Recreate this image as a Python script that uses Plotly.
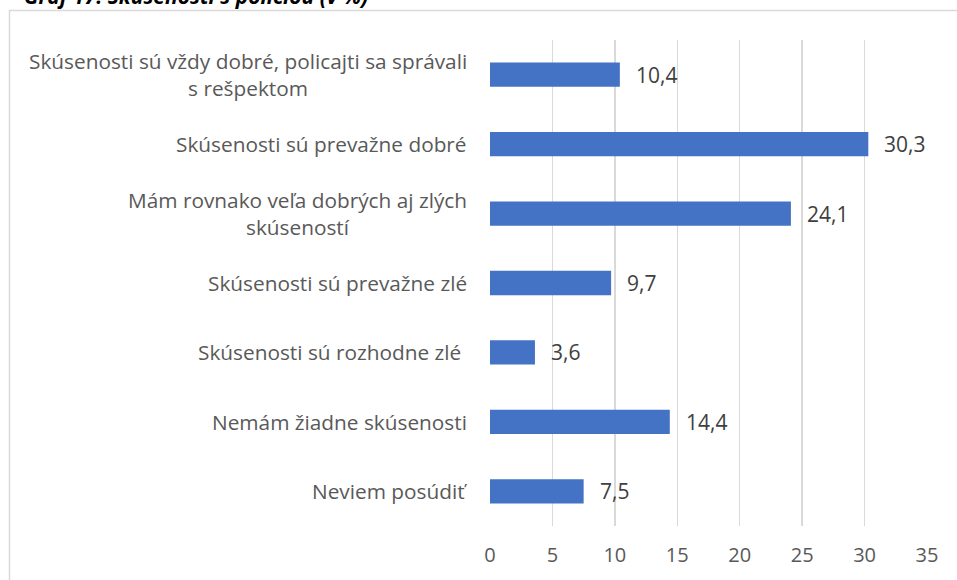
import plotly.graph_objects as go

categories = [
    "Skúsenosti sú vždy dobré, policajti sa správali<br>s rešpektom",
    "Skúsenosti sú prevažne dobré",
    "Mám rovnako veľa dobrých aj zlých<br>skúseností",
    "Skúsenosti sú prevažne zlé",
    "Skúsenosti sú rozhodne zlé\u00a0",
    "Nemám žiadne skúsenosti",
    "Neviem posúdiť",
]
values = [10.4, 30.3, 24.1, 9.7, 3.6, 14.4, 7.5]
x_ticks = [0, 5, 10, 15, 20, 25, 30, 35]
title_text = "Graf 17: Skúsenosti s políciou (v %)"

FONT = "Open Sans"
TXT = "#595959"
BAR = "#4472C4"
GRID = "#D9D9D9"

W, H = 957, 580
ML, MR, MT, MB = 490, 30, 40, 54
PW, PH = W - ML - MR, H - MT - MB

ids = list(range(len(categories)))

fig = go.Figure()
fig.add_trace(go.Bar(
    x=values, y=ids, orientation="h",
    marker=dict(color=BAR, line=dict(width=0)),
    hoverinfo="skip",
))

annotations = []
for i, (c, v) in enumerate(zip(categories, values)):
    annotations.append(dict(
        x=0, xref="paper", y=i, yref="y", text=c, showarrow=False,
        xanchor="right", yanchor="middle", align="center", xshift=-21,
        font=dict(family=FONT, size=20.8, color=TXT),
    ))
    annotations.append(dict(
        x=v, xref="x", y=i, yref="y", text=f"{v:.1f}".replace(".", ","),
        showarrow=False, xanchor="left", yanchor="middle", xshift=14,
        font=dict(family=FONT, size=21, color="#404040"),
    ))

annotations.append(dict(
    x=(22 - ML) / PW, xref="paper", y=1 + (MT - 8) / PH, yref="paper",
    text=f"<b><i>{title_text}</i></b>", showarrow=False,
    xanchor="left", yanchor="bottom", yshift=-4,
    font=dict(family=FONT, size=21, color="#000000"),
))

fig.update_layout(
    width=W, height=H,
    margin=dict(l=ML, r=MR, t=MT, b=MB),
    paper_bgcolor="white", plot_bgcolor="white",
    bargap=0.65,
    showlegend=False,
    separators=", ",
    annotations=annotations,
    shapes=[dict(
        type="rect", xref="paper", yref="paper",
        x0=(9.5 - ML) / PW, x1=2, y0=-1, y1=1 + (MT - 10.5) / PH,
        line=dict(color=GRID, width=1.5), fillcolor="rgba(0,0,0,0)",
        layer="below",
    )],
    xaxis=dict(
        range=[0, 35], tickvals=x_ticks, ticktext=[str(t) for t in x_ticks],
        showgrid=True, gridcolor=GRID, gridwidth=1.5,
        zeroline=False, showline=False, ticks="",
        ticklabelstandoff=15,
        tickfont=dict(family=FONT, size=20, color=TXT),
        fixedrange=True,
    ),
    yaxis=dict(
        range=[len(categories) - 0.5, -0.5],
        showticklabels=False, showgrid=False, zeroline=False, showline=False,
        ticks="", fixedrange=True,
    ),
)

fig.write_html(
    "out.html",
    config={"displayModeBar": False, "staticPlot": True},
    post_script="document.body.style.margin='0';document.body.style.padding='0';",
)
